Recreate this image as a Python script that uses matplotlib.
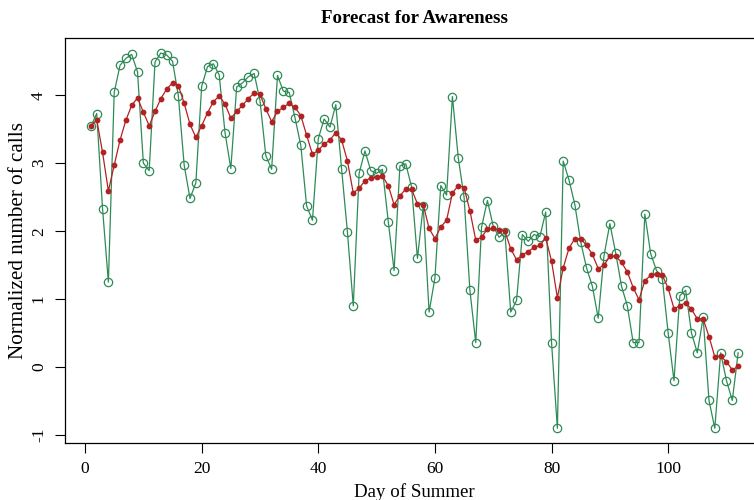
"""
Forecast for Awareness: observed calls vs. smoothed forecast.
"""

import numpy as np
import matplotlib.pyplot as plt

# Observed normalized calls per day (green open circles)
observed = [3.54, 3.73, 2.33, 1.25, 4.04, 4.44, 4.54, 4.60, 4.34, 3.00,
            2.89, 4.49, 4.62, 4.59, 4.50, 3.99, 2.97, 2.48, 2.71, 4.13,
            4.42, 4.46, 4.30, 3.45, 2.92, 4.12, 4.18, 4.27, 4.32, 3.92,
            3.11, 2.91, 4.29, 4.06, 4.04, 3.67, 3.26, 2.37, 2.16, 3.36,
            3.65, 3.53, 3.86, 2.91, 1.98, 0.90, 2.85, 3.18, 2.89, 2.85,
            2.91, 2.14, 1.42, 2.96, 2.99, 2.65, 1.60, 2.37, 0.81, 1.31,
            2.67, 2.53, 3.98, 3.08, 2.50, 1.13, 0.36, 2.06, 2.45, 2.07,
            1.91, 1.98, 0.81, 0.98, 1.95, 1.85, 1.95, 1.92, 2.28, 0.36,
            -0.90, 3.03, 2.75, 2.39, 1.84, 1.46, 1.19, 0.72, 1.64, 2.11,
            1.68, 1.19, 0.90, 0.36, 0.36, 2.25, 1.67, 1.42, 1.30, 0.50,
            -0.20, 1.05, 1.13, 0.50, 0.21, 0.73, -0.49, -0.90, 0.21, -0.20,
            -0.49, 0.21]

# Forecast (red filled dots)
forecast = [3.54, 3.64, 3.16, 2.59, 2.97, 3.34, 3.63, 3.85, 3.96, 3.75,
            3.55, 3.76, 3.95, 4.09, 4.18, 4.14, 3.88, 3.57, 3.38, 3.55,
            3.74, 3.90, 3.99, 3.87, 3.66, 3.76, 3.85, 3.95, 4.03, 4.01,
            3.80, 3.61, 3.76, 3.82, 3.88, 3.82, 3.70, 3.41, 3.13, 3.19,
            3.28, 3.34, 3.45, 3.34, 3.03, 2.56, 2.63, 2.74, 2.78, 2.79,
            2.81, 2.67, 2.39, 2.52, 2.62, 2.62, 2.40, 2.39, 2.04, 1.89,
            2.06, 2.16, 2.56, 2.67, 2.64, 2.30, 1.87, 1.91, 2.03, 2.04,
            2.01, 2.00, 1.74, 1.58, 1.65, 1.70, 1.76, 1.79, 1.90, 1.56,
            1.02, 1.46, 1.75, 1.89, 1.89, 1.79, 1.66, 1.45, 1.50, 1.63,
            1.63, 1.54, 1.40, 1.17, 0.99, 1.27, 1.35, 1.37, 1.35, 1.16,
            0.86, 0.90, 0.95, 0.85, 0.71, 0.71, 0.45, 0.15, 0.16, 0.08,
            -0.04, 0.01]

days = np.arange(1, len(observed) + 1)

plt.rcParams['font.family'] = ['Liberation Serif', 'DejaVu Serif']

fig = plt.figure(figsize=(7.54, 5.00), dpi=100)
ax = fig.add_axes([0.0862, 0.1134, 0.9271, 0.8106])

ax.plot(days, observed, '-o', color='#2E8B57', linewidth=0.9,
        markersize=6, markerfacecolor='none', markeredgewidth=0.9)
ax.plot(days, forecast, '-o', color='#B22222', linewidth=0.9,
        markersize=4.2, markeredgewidth=0)

# R-like 4% padding around the data
allv = np.array(observed + forecast)
xr = days.max() - days.min()
yr = allv.max() - allv.min()
ax.set_xlim(days.min() - 0.04 * xr, days.max() + 0.04 * xr)
ax.set_ylim(allv.min() - 0.04 * yr, allv.max() + 0.04 * yr)

ax.set_xticks([0, 20, 40, 60, 80, 100])
ax.set_yticks([-1, 0, 1, 2, 3, 4])
ax.set_yticklabels(['-1', '0', '1', '2', '3', '4'], rotation=90, va='center')
ax.tick_params(direction='out', length=7, width=0.8, labelsize=12.5, pad=6)

ax.set_title('Forecast for Awareness', fontsize=13.6, fontweight='bold', pad=11)
ax.set_xlabel('Day of Summer', fontsize=13.6, labelpad=4)
ax.set_ylabel('Normalized number of calls', fontsize=15.2, labelpad=2)

for s in ax.spines.values():
    s.set_linewidth(0.9)

fig.savefig('out.png', dpi=100)
